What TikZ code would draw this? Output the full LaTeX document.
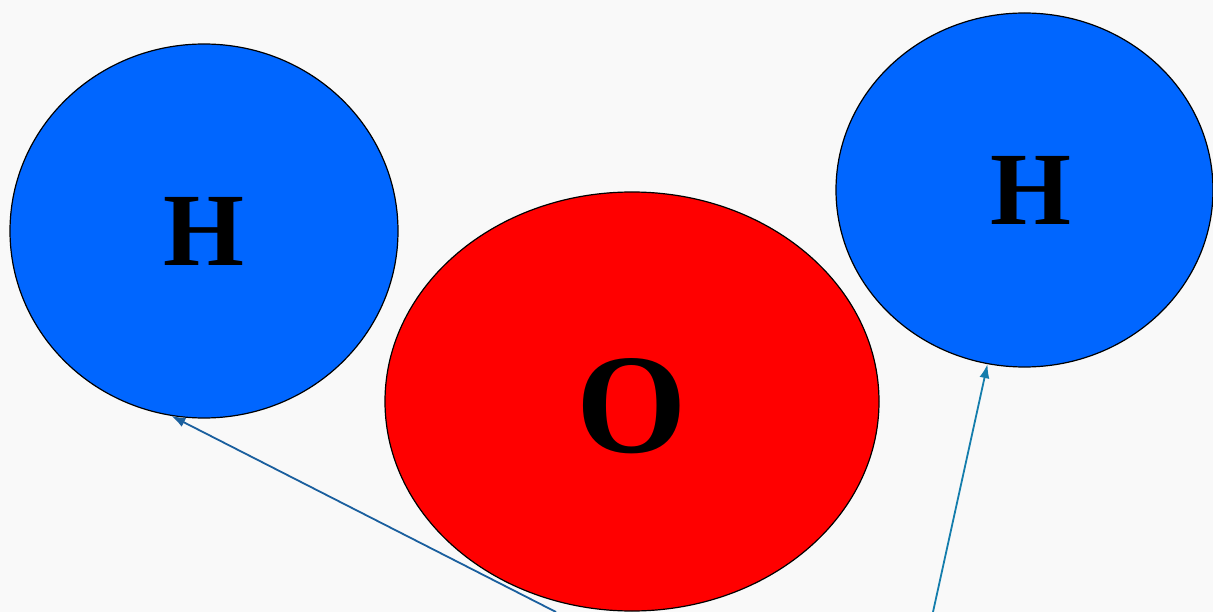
\documentclass[tikz,border=0pt]{standalone}
\usepackage{fontspec}
\newfontfamily\atomfont{Liberation Serif}[BoldFont={Liberation Serif Bold}]
\usetikzlibrary{shapes.geometric,arrows.meta}
\definecolor{hblue}{RGB}{0,102,255}
\definecolor{ored}{RGB}{255,0,0}
\definecolor{paper}{RGB}{249,249,249}
\definecolor{linkdark}{RGB}{26,95,158}
\definecolor{linkteal}{RGB}{20,125,172}
\tikzset{
	atom/.style={ellipse,draw=black,line width=1.2pt,inner sep=0pt},
	pointer/.style={line width=1.8pt,-{Latex[length=14pt,width=10pt]}}
}
\begin{document}
\begin{tikzpicture}[x=1pt,y=-1pt]
		\useasboundingbox[fill=paper](0,0) rectangle (1213,612);
		
		% atoms
		\node[atom,fill=hblue,minimum width=388pt,minimum height=374pt,
		font=\atomfont\bfseries\fontsize{104}{110}\selectfont](hleft) at (204,231){H};
		\node[atom,fill=hblue,minimum width=377pt,minimum height=354pt,
		font=\atomfont\bfseries\fontsize{104}{110}\selectfont](hright) at (1024.5,190){\hspace*{12pt}H};
		\node[atom,fill=ored,minimum width=494pt,minimum height=419pt,
		label={[font=\atomfont\bfseries\fontsize{142}{146}\selectfont,yshift=-5pt]center:O}](oxy) at (632,401.5){};
		
		% arrows from below
		\coordinate (lfoot) at (556,612);
		\coordinate (rfoot) at (933,612);
		\draw[pointer,linkdark](lfoot)--(hleft.260.6);
		\draw[pointer,linkteal](rfoot)--(hright.258.4);
\end{tikzpicture}
\end{document}
